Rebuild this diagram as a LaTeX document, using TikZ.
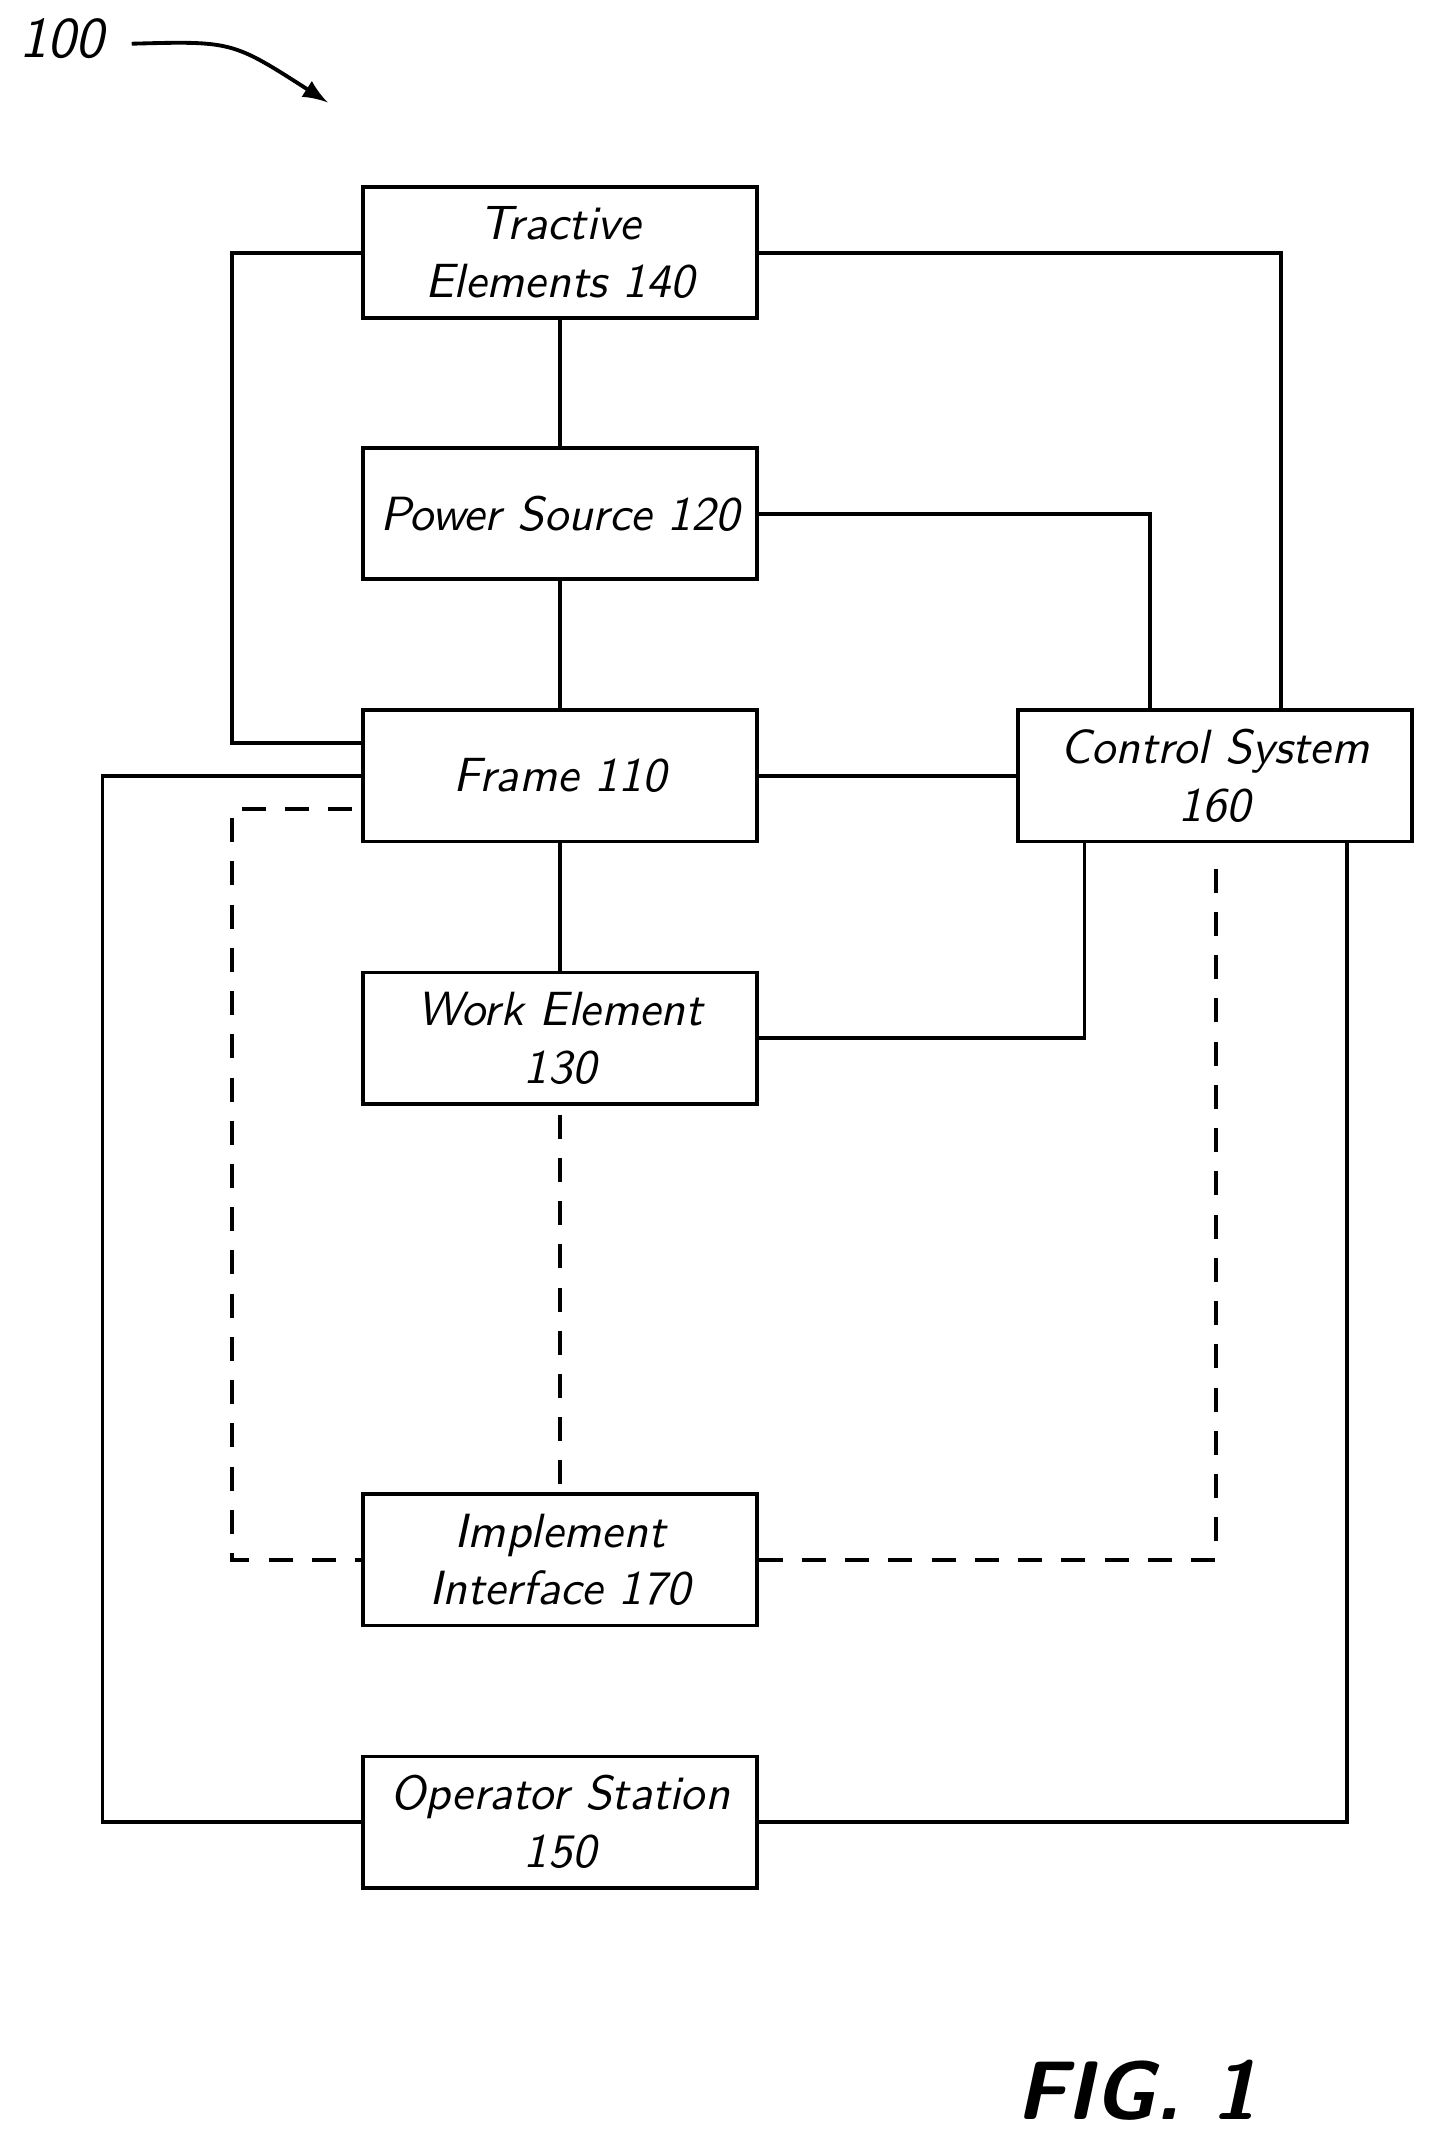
\documentclass[tikz,border=0pt]{standalone}
\usepackage{tikz}
\usetikzlibrary{arrows}

\tikzset{
  blk/.style={draw, thick, minimum width=2.88cm, minimum height=0.96cm, align=center,
    font=\sffamily\itshape, inner sep=1pt},
  wire/.style={thick},
  dwire/.style={thick, dash pattern=on 5pt off 4pt}
}

\begin{document}
\begin{tikzpicture}[x=0.01cm, y=-0.01cm]
        \useasboundingbox (0,0) rectangle (1050,1566);

        \node[blk] (tract) at (410,185) {Tractive\\Elements 140};
        \node[blk] (power) at (410,376) {Power Source 120};
        \node[blk] (frame) at (410,568) {Frame 110};
        \node[blk] (work) at (410,760) {Work Element\\130};
        \node[blk] (impl) at (410,1142) {Implement\\Interface 170};
        \node[blk] (oper) at (410,1334) {Operator Station\\150};
        \node[blk] (ctrl) at (889.5,568) {Control System\\160};

        % solid links
        \draw[wire] (tract) -- (power);
        \draw[wire] (power) -- (frame);
        \draw[wire] (frame) -- (work);
        \draw[wire] (frame) -- (ctrl);
        \draw[wire] (tract.west) -- (170,185) -- (170,544) -- (frame.west |- 0,544);
        \draw[wire] (tract.east) -- (938,185) -- (ctrl.north -| 938,0);
        \draw[wire] (power.east) -- (842,376) -- (ctrl.north -| 842,0);
        \draw[wire] (frame.west) -- (75,568) -- (75,1334) -- (oper.west);
        \draw[wire] (oper.east) -- (986,1334) -- (ctrl.south -| 986,0);
        \draw[wire] (work.east) -- (794,760) -- (ctrl.south -| 794,0);

        % dashed links
        \draw[dwire] (258,592) -- (170,592) -- (170,1142) -- (impl.west);
        \draw[dwire] (410,816) -- (impl.north);
        \draw[dwire] (impl.east) -- (890,1142) -- (890,624);

        \node[font=\sffamily\itshape\large] (ref) at (45,28) {100};
        \draw[thick, -latex] (ref.east) ++(8,4) .. controls (170,30) .. (240,75);
        \node[font=\sffamily\bfseries\itshape\LARGE] (fig) at (832,1530) {FIG. 1};
    \end{tikzpicture}
\end{document}
